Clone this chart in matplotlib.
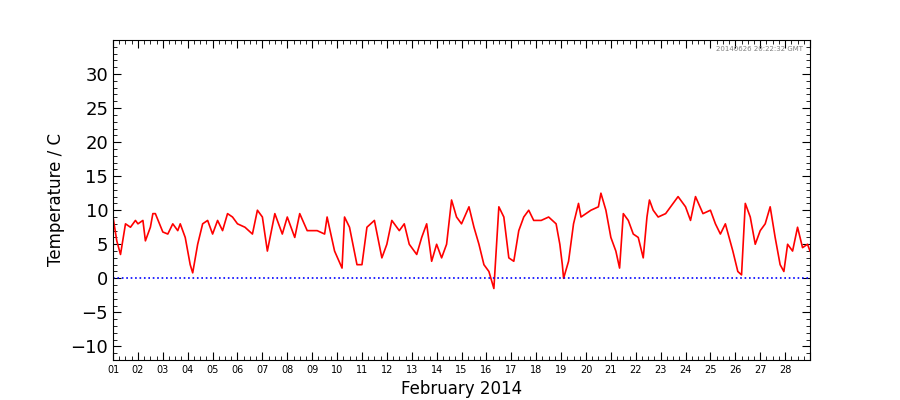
import matplotlib
matplotlib.use("Agg")
import matplotlib.pyplot as plt
import matplotlib.dates as mdates
import numpy as np
import datetime as dt

# day-of-month (fractional) and temperature
days = [1.0, 1.15, 1.3, 1.5, 1.7, 1.9, 2.0, 2.2, 2.3, 2.5, 2.6, 2.7, 3.0, 3.2, 3.4, 3.6, 3.7,
        3.9, 4.1, 4.2, 4.4, 4.6, 4.8, 5.0, 5.2, 5.4, 5.6, 5.8, 6.0, 6.3, 6.6, 6.8, 7.0,
        7.2, 7.5, 7.8, 8.0, 8.3, 8.5, 8.8, 9.2, 9.5, 9.6, 9.9, 10.2, 10.3, 10.5, 10.8,
        11.0, 11.2, 11.5, 11.8, 12.0, 12.2, 12.5, 12.7, 12.9, 13.2, 13.4, 13.6, 13.8,
        14.0, 14.2, 14.4, 14.6, 14.8, 15.0, 15.3, 15.5, 15.7, 15.9, 16.1, 16.3, 16.5,
        16.7, 16.9, 17.1, 17.3, 17.5, 17.7, 17.9, 18.2, 18.5, 18.8, 18.95, 19.05, 19.1,
        19.3, 19.5, 19.7, 19.8, 20.2, 20.5, 20.6, 20.8, 21.0, 21.1, 21.2, 21.35, 21.5,
        21.7, 21.9, 22.1, 22.3, 22.45, 22.55, 22.7, 22.9, 23.2, 23.5, 23.7, 24.0, 24.2,
        24.4, 24.7, 25.0, 25.2, 25.4, 25.6, 25.9, 26.1, 26.25, 26.4, 26.6, 26.8, 27.0,
        27.2, 27.4, 27.6, 27.8, 27.95, 28.1, 28.3, 28.5, 28.7, 28.9, 29.0]
temps = [9.0, 5.5, 3.5, 8.0, 7.5, 8.5, 8.0, 8.5, 5.5, 7.5, 9.5, 9.5, 6.8, 6.5, 8.0, 7.0, 8.0,
         6.0, 2.0, 0.8, 5.0, 8.0, 8.5, 6.5, 8.5, 7.0, 9.5, 9.0, 8.0, 7.5, 6.5, 10.0, 9.0,
         4.0, 9.5, 6.5, 9.0, 6.0, 9.5, 7.0, 7.0, 6.5, 9.0, 4.0, 1.5, 9.0, 7.5, 2.0,
         2.0, 7.5, 8.5, 3.0, 5.0, 8.5, 7.0, 8.0, 5.0, 3.5, 6.0, 8.0, 2.5,
         5.0, 3.0, 5.0, 11.5, 9.0, 8.0, 10.5, 7.5, 5.0, 2.0, 1.0, -1.5, 10.5,
         9.0, 3.0, 2.5, 7.0, 9.0, 10.0, 8.5, 8.5, 9.0, 8.0, 5.0, 2.0, 0.0,
         2.5, 8.0, 11.0, 9.0, 10.0, 10.5, 12.5, 10.0, 6.0, 5.0, 4.0, 1.5, 9.5,
         8.5, 6.5, 6.0, 3.0, 9.0, 11.5, 10.0, 9.0, 9.5, 11.0, 12.0, 10.5, 8.5,
         12.0, 9.5, 10.0, 8.0, 6.5, 8.0, 4.0, 1.0, 0.5, 11.0, 9.0, 5.0, 7.0,
         8.0, 10.5, 6.0, 2.0, 1.0, 5.0, 4.0, 7.5, 4.5, 5.0, 4.0]

start = dt.datetime(2014, 2, 1)
times = [start + dt.timedelta(days=d - 1) for d in days]

fig = plt.figure(figsize=(9, 4), dpi=100)
ax = fig.add_axes([0.1256, 0.1, 0.7744, 0.8])
ax.plot(times, temps, color="red", linewidth=1.2)
ax.axhline(0, color="blue", linestyle=":", linewidth=1.2)

ax.set_xlim(start, dt.datetime(2014, 3, 1))
ax.set_ylim(-12, 35)
ax.xaxis.set_major_locator(mdates.DayLocator())
ax.xaxis.set_major_formatter(mdates.DateFormatter("%d"))
ax.xaxis.set_minor_locator(mdates.HourLocator(byhour=[6, 12, 18]))
ax.set_yticks(np.arange(-10, 35, 5))
ax.set_yticks(np.arange(-12, 36, 1), minor=True)
ax.tick_params(axis="x", labelsize=7)
ax.tick_params(axis="y", labelsize=13)
ax.tick_params(which="both", direction="in", top=True, right=True)
ax.tick_params(which="major", length=6)
ax.tick_params(which="minor", length=3)
for lbl in ax.get_xticklabels()[-1:]:
    lbl.set_visible(False)

ax.set_xlabel("February 2014", fontsize=12)
ax.set_ylabel("Temperature / C", fontsize=12)
ax.text(0.99, 0.98, "20140626 20:22:32 GMT", transform=ax.transAxes,
        ha="right", va="top", fontsize=5, color="gray")

fig.savefig("out.png", dpi=100)
